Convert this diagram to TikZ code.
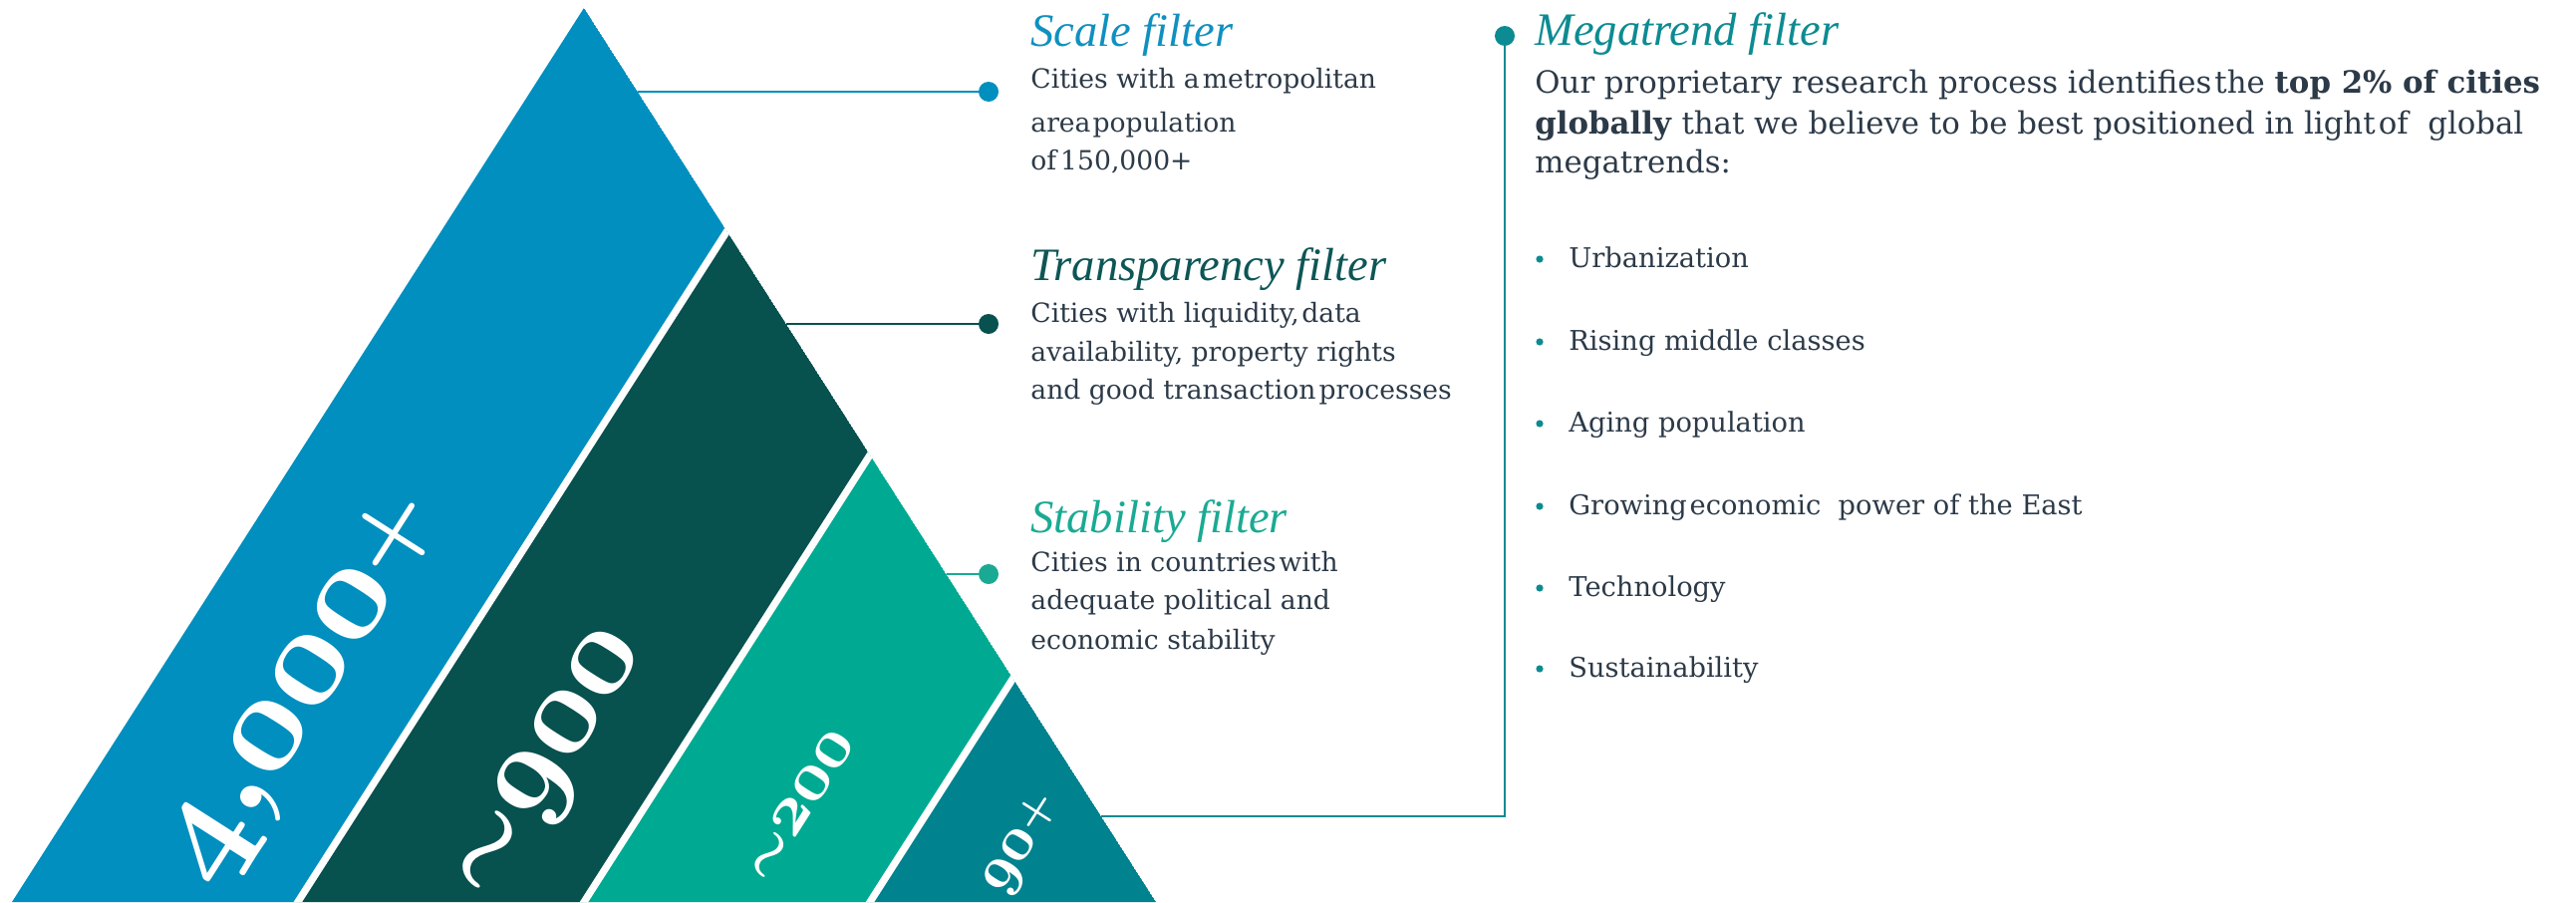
\documentclass[tikz,border=0pt]{standalone}
\usepackage{fontspec}
\usetikzlibrary{calc}
\setmainfont{DejaVu Serif}
\newfontfamily\titlefamily{Liberation Serif}

% old-style bold digits, bold swung dash and plus for the pyramid figures
\font\numXL=cmmib10 at 68pt
\font\numL=cmmib10 at 61pt
\font\numM=cmmib10 at 34pt
\font\numS=cmmib10 at 30pt
\font\simL=cmbsy10 at 50pt
\font\simM=cmbsy10 at 29pt
\font\plusXL=cmbx10 at 48pt
\font\plusS=cmbx10 at 22pt

\definecolor{bandA}{HTML}{008FBF}
\definecolor{bandB}{HTML}{07514F}
\definecolor{bandC}{HTML}{00AA92}
\definecolor{bandD}{HTML}{00838F}
\definecolor{inkc}{HTML}{2C3A48}
\definecolor{titleA}{HTML}{1090C0}
\definecolor{titleB}{HTML}{0D5656}
\definecolor{titleC}{HTML}{1AAA93}
\definecolor{titleD}{HTML}{0D8B92}

\tikzset{
  x=0.5pt, y=-0.5pt,
  figlabel/.style={text=white, inner sep=0pt, rotate=57.4},
  ftitle/.style={anchor=base west, inner sep=0pt, font=\titlefamily\itshape\fontsize{23.3}{26}\selectfont},
  fbody/.style={anchor=base west, inner sep=0pt, text=inkc, font=\fontsize{13.3}{16}\selectfont},
  mbody/.style={anchor=base west, inner sep=0pt, text=inkc, font=\fontsize{15.4}{18}\selectfont},
  bitem/.style={anchor=base west, inner sep=0pt, text=inkc, font=\fontsize{13.65}{17}\selectfont},
  bdot/.style={circle, fill=titleD, inner sep=0pt, minimum size=3.6pt},
  pin/.style={circle, inner sep=0pt, minimum size=10pt},
  leader/.style={line width=1.2pt},
  cut/.style={white, line width=3.6pt},
}

\begin{document}
\begin{tikzpicture}
\path[use as bounding box] (0,0) rectangle (2585,905);

% pyramid corners and band boundaries
\coordinate (apex) at (586,8);
\coordinate (bl) at (12,905);
\coordinate (br) at (1160,905);
\coordinate (c1t) at (729.5,232);
\coordinate (c1b) at (298.8,905);
\coordinate (c2t) at (873,456.5);
\coordinate (c2b) at (586,905);
\coordinate (c3t) at (1016.5,680.75);
\coordinate (c3b) at (873,905);

\begin{scope}
  \clip (apex) -- (bl) -- (br) -- cycle;
  \fill[bandA] (apex) -- (bl) -- (c1b) -- (c1t) -- cycle;
  \fill[bandB] (c1t) -- (c1b) -- (c2b) -- (c2t) -- cycle;
  \fill[bandC] (c2t) -- (c2b) -- (c3b) -- (c3t) -- cycle;
  \fill[bandD] (c3t) -- (c3b) -- (br) -- cycle;
  \draw[cut] ($(c1t)+(20,-31.3)$) -- ($(c1b)+(-20,31.3)$);
  \draw[cut] ($(c2t)+(20,-31.3)$) -- ($(c2b)+(-20,31.3)$);
  \draw[cut] ($(c3t)+(20,-31.3)$) -- ($(c3b)+(-20,31.3)$);
\end{scope}

% figures in the bands
\node[figlabel] (f4000) at (309,692) {\numXL 4\char59 000\raisebox{4pt}{\plusXL +}};
\node[figlabel] (f900) at (553,768) {\raisebox{-1pt}{\simL\char24}\numL 900};
\node[figlabel] (f200) at (802,808) {\raisebox{-1pt}{\simM\char24}\numM 200};
\node[figlabel] (f90) at (1026,847) {\numS 90\raisebox{2pt}{\plusS +}};

% leaders from the pyramid to the filter descriptions
\coordinate (eA) at (639.8,92);
\coordinate (eB) at (789,325);
\coordinate (eC) at (949.5,576);
\coordinate (eD) at (1105,819);
\coordinate (kD) at (1510,819);
\node[pin, fill=bandA] (pA) at (992,92) {};
\node[pin, fill=bandB] (pB) at (992,325) {};
\node[pin, fill=titleC] (pC) at (992,576) {};
\node[pin, fill=titleD] (pD) at (1510,36) {};
\draw[leader, bandA] (eA) -- (pA);
\draw[leader, bandB] (eB) -- (pB);
\draw[leader, titleC] (eC) -- (pC);
\draw[leader, titleD] (eD) -- (kD) -- (pD);

% filter descriptions
\node[ftitle, text=titleA] (tA) at (1034,46) {Scale filter};
\node[fbody] (bA1) at (1034,88) {Cities with a\hspace{0.12em}metropolitan};
\node[fbody] (bA2) at (1034,132) {area\hspace{0.08em}population};
\node[fbody] (bA3) at (1034,170) {of\hspace{0.15em}150,000+};

\node[ftitle, text=titleB] (tB) at (1034,281) {Transparency filter};
\node[fbody] (bB1) at (1034,323) {Cities with liquidity,\hspace{0.1em}data};
\node[fbody] (bB2) at (1034,362) {availability, property rights};
\node[fbody] (bB3) at (1034,400) {and good transaction\hspace{0.12em}processes};

\node[ftitle, text=titleC] (tC) at (1034,534) {Stability filter};
\node[fbody] (bC1) at (1034,573) {Cities in countries\hspace{0.1em}with};
\node[fbody] (bC2) at (1034,611) {adequate political and};
\node[fbody] (bC3) at (1034,651) {economic stability};

\node[ftitle, text=titleD] (tD) at (1540,45) {Megatrend filter};
\node[mbody] (mD1) at (1540,93) {Our proprietary research process identifies\hspace{0.1em}the \textbf{top 2\% of cities}};
\node[mbody] (mD2) at (1540,134) {\textbf{globally} that we believe to be best positioned in light\hspace{0.1em}of\ \ global};
\node[mbody] (mD3) at (1540,173) {megatrends:};

% megatrend list
\foreach \yy/\nm/\txt in {268/i1/Urbanization, 351/i2/Rising middle classes, 433/i3/Aging population, 516/i4/{Growing\hspace{0.1em}economic\ \ power of the East}, 598/i5/Technology, 679/i6/Sustainability}{
  \node[bdot] (d\nm) at (1545,\yy-8) {};
  \node[bitem] (\nm) at (1574,\yy) {\txt};
}
\end{tikzpicture}
\end{document}
